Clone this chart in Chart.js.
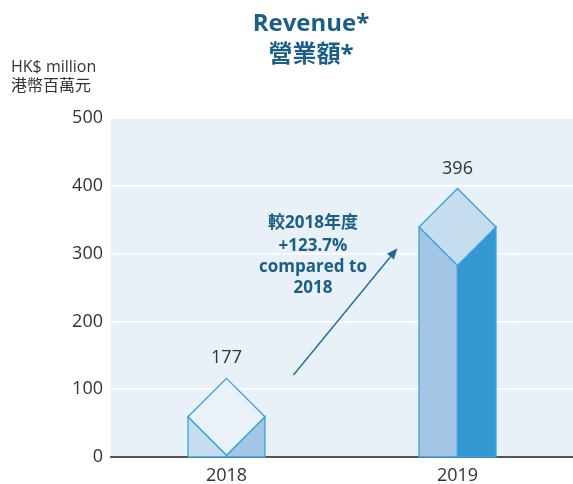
<!DOCTYPE html>
<html>
<head>
<meta charset="utf-8">
<script src="https://cdn.jsdelivr.net/npm/chart.js@4"></script>
<style>
  html, body { margin: 0; padding: 0; background: #fff; }
  canvas { display: block; }
</style>
</head>
<body>
<canvas id="revenueChart" width="573" height="484"></canvas>
<script>
// データ
const years = ['2018', '2019'];
const barHeights = [116, 396];          // 図で描かれている高さ (HK$ million)
const valueLabels = ['177', '396'];     // 棒の上の数値ラベル
const yTicks = [0, 100, 200, 300, 400, 500];
const titleLines = ['Revenue*', '營業額*'];
const unitLines = ['HK$ million', '港幣百萬元'];
const noteLines = ['較2018年度', '+123.7%', 'compared to', '2018'];
// 矢印（カテゴリ位置, 値）
const arrowFrom = { x: 0.29, y: 121 };
const arrowTo = { x: 0.74, y: 308 };

// 色
const faceColors = [
    { top: '#e9f1f9', left: '#c6dcef', right: '#a4c6e6' },
    { top: '#c6dcef', left: '#a4c6e6', right: '#3499d3' }
];
const edgeColor = '#3c9fd8';
const darkBlue = '#1c5f86';
const latin = '"Open Sans", "Noto Sans", sans-serif';
const cjk = '"Open Sans", "Noto Sans CJK TC", sans-serif';

// 背景（プロット領域）
const plotBackground = {
    id: 'plotBackground',
    beforeDraw(chart) {
        const { ctx, chartArea: a } = chart;
        ctx.save();
        ctx.fillStyle = '#e8f0f8';
        ctx.fillRect(a.left, a.top, a.right - a.left, a.bottom - a.top);
        ctx.restore();
    }
};

// 立体の棒（ひし形の上面）
const prismBars = {
    id: 'prismBars',
    afterDatasetsDraw(chart) {
        const { ctx } = chart;
        const meta = chart.getDatasetMeta(0);
        const base = chart.scales.y.getPixelForValue(0);
        meta.data.forEach((bar, i) => {
            const half = bar.width / 2;
            const l = bar.x - half, r = bar.x + half, c = bar.x;
            const top = bar.y, side = bar.y + half, low = Math.min(bar.y + half * 2, base);
            const col = faceColors[i];
            ctx.save();
            ctx.lineWidth = 1.3;
            ctx.strokeStyle = edgeColor;
            ctx.lineJoin = 'miter';
            const poly = (pts, fill) => {
                ctx.beginPath();
                pts.forEach((p, k) => k ? ctx.lineTo(p[0], p[1]) : ctx.moveTo(p[0], p[1]));
                ctx.closePath();
                ctx.fillStyle = fill;
                ctx.fill();
                ctx.stroke();
            };
            poly([[l, side], [c, low], [c, base], [l, base]], col.left);
            poly([[r, side], [c, low], [c, base], [r, base]], col.right);
            poly([[c, top], [r, side], [c, low], [l, side]], col.top);

            // 数値ラベル
            ctx.fillStyle = '#333';
            ctx.font = '18px ' + latin;
            ctx.textAlign = 'center';
            ctx.textBaseline = 'middle';
            ctx.fillText(valueLabels[i], c, top - 20);
            ctx.restore();
        });
    }
};

// タイトル・単位・注記・矢印
const annotations = {
    id: 'annotations',
    afterDraw(chart) {
        const { ctx, scales: { x, y } } = chart;
        ctx.save();
        ctx.textAlign = 'center';
        ctx.textBaseline = 'middle';
        ctx.fillStyle = darkBlue;
        ctx.font = 'bold 24px ' + latin;
        ctx.fillText(titleLines[0], 311, 24);
        ctx.font = 'bold 24px ' + cjk;
        ctx.fillText(titleLines[1], 311, 55);

        ctx.fillStyle = '#333';
        ctx.textAlign = 'left';
        ctx.font = '16px ' + latin;
        ctx.fillText(unitLines[0], 11, 67);
        ctx.font = '16px ' + cjk;
        ctx.fillText(unitLines[1], 11, 86);

        ctx.fillStyle = darkBlue;
        ctx.textAlign = 'center';
        ctx.font = 'bold 17px ' + cjk;
        const noteY = [223, 246, 267, 288];
        noteLines.forEach((t, k) => ctx.fillText(t, 313, noteY[k]));

        // 矢印
        const x1 = x.getPixelForValue(arrowFrom.x), y1 = y.getPixelForValue(arrowFrom.y);
        const x2 = x.getPixelForValue(arrowTo.x), y2 = y.getPixelForValue(arrowTo.y);
        const ang = Math.atan2(y2 - y1, x2 - x1);
        const headLen = 11, headW = 4.5;
        const bx = x2 - headLen * Math.cos(ang), by = y2 - headLen * Math.sin(ang);
        ctx.strokeStyle = '#1f6d96';
        ctx.fillStyle = '#1f6d96';
        ctx.lineWidth = 1.4;
        ctx.beginPath();
        ctx.moveTo(x1, y1);
        ctx.lineTo(bx, by);
        ctx.stroke();
        ctx.beginPath();
        ctx.moveTo(x2, y2);
        ctx.lineTo(bx + headW * Math.sin(ang), by - headW * Math.cos(ang));
        ctx.lineTo(bx - headW * Math.sin(ang), by + headW * Math.cos(ang));
        ctx.closePath();
        ctx.fill();
        ctx.restore();
    }
};

new Chart(document.getElementById('revenueChart').getContext('2d'), {
    type: 'bar',
    data: {
        labels: years,
        datasets: [{
            data: barHeights,
            backgroundColor: 'transparent',
            borderWidth: 0,
            barPercentage: 1,
            categoryPercentage: 0.333
        }]
    },
    options: {
        responsive: false,
        animation: false,
        layout: { padding: { top: 118, left: 0, right: 0, bottom: 0 } },
        plugins: {
            legend: { display: false },
            tooltip: { enabled: false },
            title: { display: false }
        },
        scales: {
            x: {
                grid: { display: false, drawTicks: false },
                border: { display: true, color: '#555', width: 2 },
                ticks: { color: '#333', padding: 8, font: { family: latin, size: 18 } },
                afterFit: (scale) => { scale.height = 27; }
            },
            y: {
                min: 0,
                max: 500,
                afterBuildTicks: (scale) => { scale.ticks = yTicks.map(v => ({ value: v })); },
                grid: { color: '#ffffff', lineWidth: 1.5, drawTicks: false },
                border: { display: false },
                ticks: { color: '#333', padding: 8, font: { family: latin, size: 18 } },
                afterFit: (scale) => { scale.width = 111; }
            }
        }
    },
    plugins: [plotBackground, prismBars, annotations]
});
</script>
</body>
</html>
